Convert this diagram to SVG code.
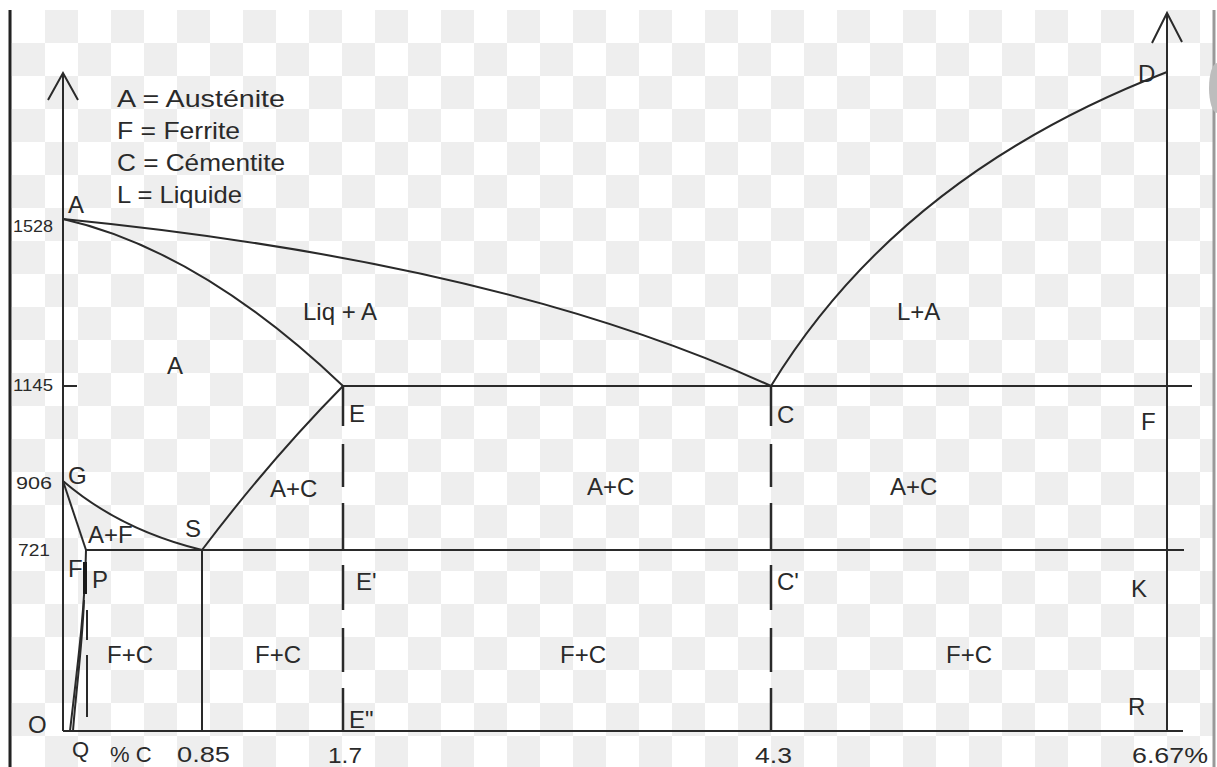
<svg xmlns="http://www.w3.org/2000/svg" width="1217" height="767" viewBox="0 0 1217 767">
<defs>
<pattern id="chk" x="12" y="10" width="66" height="66" patternUnits="userSpaceOnUse">
<rect x="0" y="0" width="66" height="66" fill="#ffffff"/>
<rect x="33" y="0" width="33" height="33" fill="#eeeeee"/>
<rect x="0" y="33" width="33" height="33" fill="#eeeeee"/>
</pattern>
</defs>
<style>
.ln{fill:none;stroke:#2a2a2a;stroke-width:2}
.ds{fill:none;stroke:#2a2a2a;stroke-width:2.5}
.t{font-family:"Liberation Sans",Arial,sans-serif;fill:#2a2a2a;font-size:24px}
.s{font-family:"Liberation Sans",Arial,sans-serif;fill:#2a2a2a;font-size:16px}
.b{font-family:"Liberation Sans",Arial,sans-serif;fill:#2a2a2a;font-size:22px}
</style>
<rect x="0" y="0" width="1217" height="767" fill="#ffffff"/>
<rect x="11" y="10" width="1202" height="757" fill="url(#chk)"/>
<line x1="10" y1="10" x2="10" y2="767" stroke="#222" stroke-width="3"/>
<line x1="1214" y1="10" x2="1214" y2="767" stroke="#999" stroke-width="3"/>
<ellipse cx="1217" cy="88" rx="8" ry="25" fill="#bdbdbd"/>

<g id="connectors">
<path class="ln" d="M63,731 L63,73 M48,100 L63,73 L78,100"/>
<path class="ln" d="M1167,731 L1167,13 M1152,43 L1167,13 L1182,42"/>
<line class="ln" x1="63" y1="731" x2="1183" y2="731"/>
<line class="ln" x1="63" y1="386" x2="77" y2="386"/>
<line class="ln" x1="343" y1="386" x2="1192" y2="386"/>
<line class="ln" x1="85" y1="550" x2="1184" y2="550"/>
<line class="ln" x1="202" y1="550" x2="202" y2="731"/>
<path class="ds" d="M343,386 V426 M343,444 V487 M343,503 V550 M343,565 V610 M343,628 V672 M343,688 V731"/>
<path class="ds" d="M771,386 V426 M771,444 V487 M771,503 V550 M771,565 V610 M771,628 V672 M771,688 V731"/>
<path class="ln" d="M63,219 Q500,262 771,386"/>
<path class="ln" d="M771,386 Q900,175 1167,72"/>
<path class="ln" d="M63,219 Q200,250 343,386"/>
<path class="ln" d="M343,386 Q270,460 202,550"/>
<path class="ln" d="M63,481 Q120,530 202,550"/>
<line class="ln" x1="63" y1="481" x2="86" y2="550"/>
<path class="ln" d="M86,550 C85,610 77,670 70,731"/>
<path class="ln" d="M84,600 C82,650 76,690 73,731" stroke-width="1.5"/>
<line x1="85" y1="562" x2="85" y2="594" stroke="#1a1a1a" stroke-width="4"/>
<path class="ln" d="M87,610 V640 M87,655 V717"/>
</g>

<g id="legend">
<text class="t" x="117" y="107" textLength="168" lengthAdjust="spacingAndGlyphs">A = Austénite</text>
<text class="t" x="117" y="139" textLength="123" lengthAdjust="spacingAndGlyphs">F = Ferrite</text>
<text class="t" x="117" y="171" textLength="168" lengthAdjust="spacingAndGlyphs">C = Cémentite</text>
<text class="t" x="117" y="203" textLength="125" lengthAdjust="spacingAndGlyphs">L = Liquide</text>
</g>

<g id="axis-labels">
<text class="s" x="13" y="232" textLength="40" lengthAdjust="spacingAndGlyphs">1528</text>
<text class="s" x="13" y="391" textLength="40" lengthAdjust="spacingAndGlyphs">1145</text>
<text class="s" x="16" y="489" textLength="36" lengthAdjust="spacingAndGlyphs">906</text>
<text class="s" x="18" y="556" textLength="32" lengthAdjust="spacingAndGlyphs">721</text>
<text class="t" x="28" y="733">O</text>
<text class="b" x="72" y="757">Q</text>
<text class="b" x="110" y="762" font-size="20">% C</text>
<text class="b" x="177" y="762" textLength="53" lengthAdjust="spacingAndGlyphs">0.85</text>
<text class="b" x="328" y="763" textLength="34" lengthAdjust="spacingAndGlyphs">1.7</text>
<text class="b" x="755" y="763" textLength="37" lengthAdjust="spacingAndGlyphs">4.3</text>
<text class="b" x="1132" y="763" textLength="76" lengthAdjust="spacingAndGlyphs">6.67%</text>
</g>

<g id="points">
<text class="t" x="68" y="213">A</text>
<text class="t" x="68" y="484">G</text>
<text class="t" x="185" y="537">S</text>
<text class="t" x="68" y="577" font-size="20">F</text>
<text class="t" x="92" y="588" font-size="22">P</text>
<text class="t" x="349" y="422">E</text>
<text class="t" x="356" y="590">E'</text>
<text class="t" x="349" y="728">E"</text>
<text class="t" x="777" y="423">C</text>
<text class="t" x="777" y="590">C'</text>
<text class="t" x="1138" y="82">D</text>
<text class="t" x="1141" y="430">F</text>
<text class="t" x="1131" y="597">K</text>
<text class="t" x="1128" y="715">R</text>
</g>

<g id="regions">
<text class="t" x="303" y="320">Liq + A</text>
<text class="t" x="897" y="320">L+A</text>
<text class="t" x="167" y="374">A</text>
<text class="t" x="88" y="543" font-size="22">A+F</text>
<text class="t" x="270" y="497">A+C</text>
<text class="t" x="587" y="495">A+C</text>
<text class="t" x="890" y="495">A+C</text>
<text class="t" x="107" y="663">F+C</text>
<text class="t" x="255" y="663">F+C</text>
<text class="t" x="560" y="663">F+C</text>
<text class="t" x="946" y="663">F+C</text>
</g>
</svg>
